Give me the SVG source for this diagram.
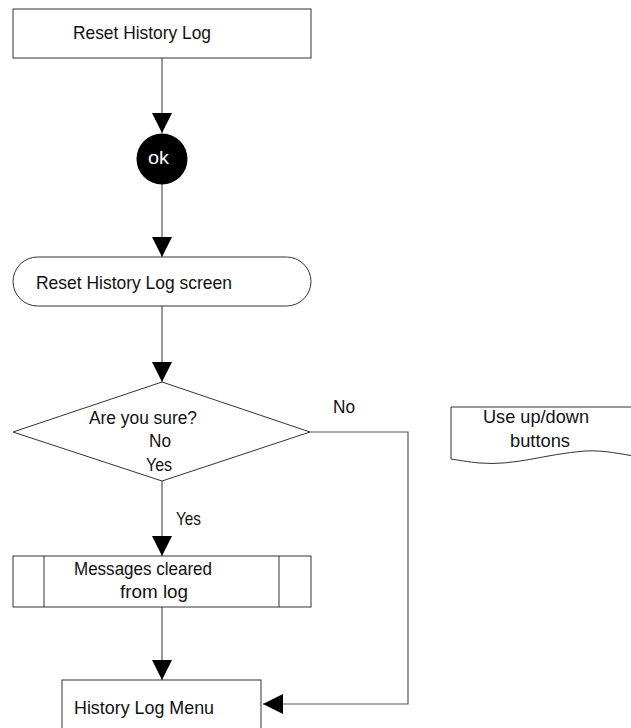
<svg xmlns="http://www.w3.org/2000/svg" width="631" height="728" viewBox="0 0 631 728">
<defs>
<style>
.shape{fill:#fff;stroke:#333;stroke-width:1}
.line{fill:none;stroke:#555;stroke-width:1.2}
text{font-family:"Liberation Sans",Arial,sans-serif;font-size:18.5px;fill:#111}
.w{fill:#fff}
</style>
<marker id="arr" viewBox="0 0 20 20" refX="20" refY="10" markerWidth="20" markerHeight="20" markerUnits="userSpaceOnUse" orient="auto">
<path d="M0,0 L20,10 L0,20 Z" fill="#000"/>
</marker>
</defs>
<rect width="631" height="728" fill="#fff"/>
<g id="connectors">
<line class="line" x1="162" y1="58" x2="162" y2="133" marker-end="url(#arr)"/>
<line class="line" x1="162" y1="184" x2="162" y2="257" marker-end="url(#arr)"/>
<line class="line" x1="162" y1="306" x2="162" y2="382" marker-end="url(#arr)"/>
<line class="line" x1="162" y1="481" x2="162" y2="556" marker-end="url(#arr)"/>
<line class="line" x1="162" y1="607" x2="162" y2="680" marker-end="url(#arr)"/>
<polyline class="line" points="310,432 408,432 408,704 263,704" marker-end="url(#arr)"/>
<text x="333" y="413" textLength="22" lengthAdjust="spacingAndGlyphs">No</text>
<text x="176" y="525" textLength="25" lengthAdjust="spacingAndGlyphs">Yes</text>
</g>
<g id="reset-history-log">
<rect class="shape" x="13" y="9" width="298" height="49"/>
<text x="73" y="39" textLength="138" lengthAdjust="spacingAndGlyphs">Reset History Log</text>
</g>
<g id="ok">
<circle cx="162" cy="159" r="25.5" fill="#000"/>
<text class="w" x="148" y="164" textLength="21" lengthAdjust="spacingAndGlyphs">ok</text>
</g>
<g id="reset-history-log-screen">
<rect class="shape" x="13" y="257" width="298" height="49" rx="24.5" ry="24.5"/>
<text x="36" y="289" textLength="196" lengthAdjust="spacingAndGlyphs">Reset History Log screen</text>
</g>
<g id="are-you-sure">
<polygon class="shape" points="162,382 310,432 162,481 13,432"/>
<text x="89" y="424" textLength="108" lengthAdjust="spacingAndGlyphs">Are you sure?</text>
<text x="149" y="447" textLength="22" lengthAdjust="spacingAndGlyphs">No</text>
<text x="146" y="471" textLength="26" lengthAdjust="spacingAndGlyphs">Yes</text>
</g>
<g id="use-up-down">
<path class="shape" d="M451,407 L640,407 L640,457 C620,454 605,450 585,451 C545,454 515,466 480,463 C468,462 458,460 451,459 Z"/>
<text x="483" y="423" textLength="106" lengthAdjust="spacingAndGlyphs">Use up/down</text>
<text x="510" y="447" textLength="60" lengthAdjust="spacingAndGlyphs">buttons</text>
</g>
<g id="messages-cleared">
<rect class="shape" x="13" y="556" width="298" height="51"/>
<line class="shape" x1="44" y1="556" x2="44" y2="607"/>
<line class="shape" x1="279" y1="556" x2="279" y2="607"/>
<text x="74" y="575" textLength="138" lengthAdjust="spacingAndGlyphs">Messages cleared</text>
<text x="120" y="598" textLength="68" lengthAdjust="spacingAndGlyphs">from log</text>
</g>
<g id="history-log-menu">
<rect class="shape" x="62" y="680" width="199" height="60"/>
<text x="74" y="714" textLength="140" lengthAdjust="spacingAndGlyphs">History Log Menu</text>
</g>
</svg>
